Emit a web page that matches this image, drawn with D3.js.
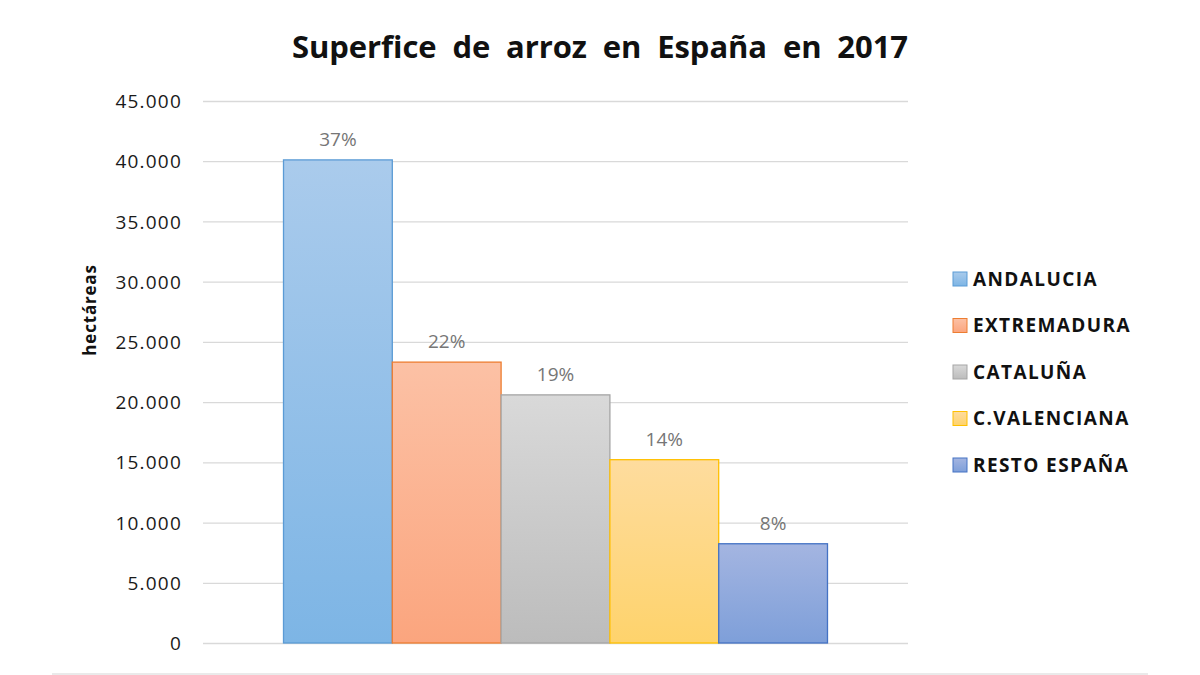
<!DOCTYPE html>
<html>
<head>
<meta charset="utf-8">
<style>
    body { margin: 0; background: #fff; }
    text { font-family: "Open Sans", "Noto Sans", sans-serif; }
</style>
</head>
<body>
<svg id="chart" width="1200" height="675"></svg>

<script src="https://cdn.jsdelivr.net/npm/d3@7/dist/d3.min.js"></script>
<script>
    // data
    const regions = ["ANDALUCIA", "EXTREMADURA", "CATALUÑA", "C.VALENCIANA", "RESTO ESPAÑA"]
    const hectares = [40110, 23320, 20600, 15220, 8240]
    const shares = ["37%", "22%", "19%", "14%", "8%"]
    const yTicks = [0, 5000, 10000, 15000, 20000, 25000, 30000, 35000, 40000, 45000]

    // colours: [top of gradient, bottom of gradient, outline]
    const colours = [
        ["#aacbec", "#7db5e5", "#5b9bd5"],
        ["#fcc1a5", "#fba57e", "#ed7d31"],
        ["#d9d9d9", "#bcbcbc", "#a5a5a5"],
        ["#fedc9e", "#fed36c", "#ffc000"],
        ["#a4b5e1", "#7e9fd9", "#4472c4"]
    ]

    const svg = d3.select("#chart")
    const plot = { left: 203, right: 908, top: 101, bottom: 643 }

    const y = d3.scaleLinear().domain([0, 45000]).range([plot.bottom, plot.top])
    const x = d3.scaleBand().domain(regions)
        .range([plot.left, plot.right])
        .paddingInner(0)
        .paddingOuter(0.74)

    // gradients
    const defs = svg.append("defs")
    regions.forEach((r, i) => {
        let g = defs.append("linearGradient")
            .attr("id", "grad" + i)
            .attr("x1", 0).attr("y1", 0).attr("x2", 0).attr("y2", 1)
        g.append("stop").attr("offset", "0%").attr("stop-color", colours[i][0])
        g.append("stop").attr("offset", "100%").attr("stop-color", colours[i][1])
    })

    // title (the original has doubled spaces between words)
    svg.append("text")
        .attr("x", 600).attr("y", 58)
        .attr("text-anchor", "middle")
        .attr("textLength", 616)
        .attr("lengthAdjust", "spacing")
        .style("white-space", "pre")
        .style("font-size", "31px")
        .style("font-weight", "bold")
        .attr("fill", "#111")
        .text("Superfice  de  arroz  en  España  en  2017")

    // gridlines and y labels
    const yAxis = d3.axisLeft(y)
        .tickValues(yTicks)
        .tickSize(-(plot.right - plot.left))
        .tickPadding(21)
        .tickFormat(d => d3.format(",")(d).replace(/,/g, "."))

    let ga = svg.append("g")
        .attr("transform", `translate(${plot.left},0)`)
        .call(yAxis)
    ga.select(".domain").remove()
    ga.selectAll(".tick line").attr("stroke", "#d9d9d9").attr("stroke-width", 1.3)
    ga.selectAll(".tick text")
        .attr("fill", "#1a1a1a")
        .style("font-size", "19px")
        .style("letter-spacing", "1.2px")
        .attr("dy", "0.35em")

    // axis title
    svg.append("text")
        .attr("transform", "translate(96,310) rotate(-90)")
        .attr("text-anchor", "middle")
        .style("font-size", "17px")
        .style("letter-spacing", "0.8px")
        .style("font-weight", "bold")
        .attr("fill", "#111")
        .text("hectáreas")

    // bars
    svg.append("g")
        .selectAll("rect")
        .data(regions)
        .enter()
        .append("rect")
            .attr("x", d => x(d))
            .attr("y", (d, i) => y(hectares[i]))
            .attr("width", x.bandwidth())
            .attr("height", (d, i) => y(0) - y(hectares[i]))
            .attr("fill", (d, i) => `url(#grad${i})`)
            .attr("stroke", (d, i) => colours[i][2])
            .attr("stroke-width", 1.3)

    // data labels
    svg.append("g")
        .selectAll("text")
        .data(regions)
        .enter()
        .append("text")
            .attr("x", d => x(d) + x.bandwidth() / 2)
            .attr("y", (d, i) => y(hectares[i]) - 14)
            .attr("text-anchor", "middle")
            .attr("fill", "#767676")
            .style("font-size", "19px")
            .text((d, i) => shares[i])

    // legend
    let legend = svg.append("g")
        .selectAll("g")
        .data(regions)
        .enter()
        .append("g")
            .attr("transform", (d, i) => `translate(953,${279 + i * 46.5})`)
    legend.append("rect")
        .attr("x", 0).attr("y", -7)
        .attr("width", 14).attr("height", 14)
        .attr("fill", (d, i) => `url(#grad${i})`)
        .attr("stroke", (d, i) => colours[i][2])
        .attr("stroke-width", 1)
    legend.append("text")
        .attr("x", 20).attr("y", 0)
        .attr("dy", "0.35em")
        .style("font-size", "19px")
        .style("letter-spacing", "1.4px")
        .style("font-weight", "bold")
        .attr("fill", "#111")
        .text(d => d)

    // bottom border line
    svg.append("line")
        .attr("x1", 52).attr("x2", 1148)
        .attr("y1", 674).attr("y2", 674)
        .attr("stroke", "#e3e3e3")
        .attr("stroke-width", 1.5)
</script>
</body>
</html>
